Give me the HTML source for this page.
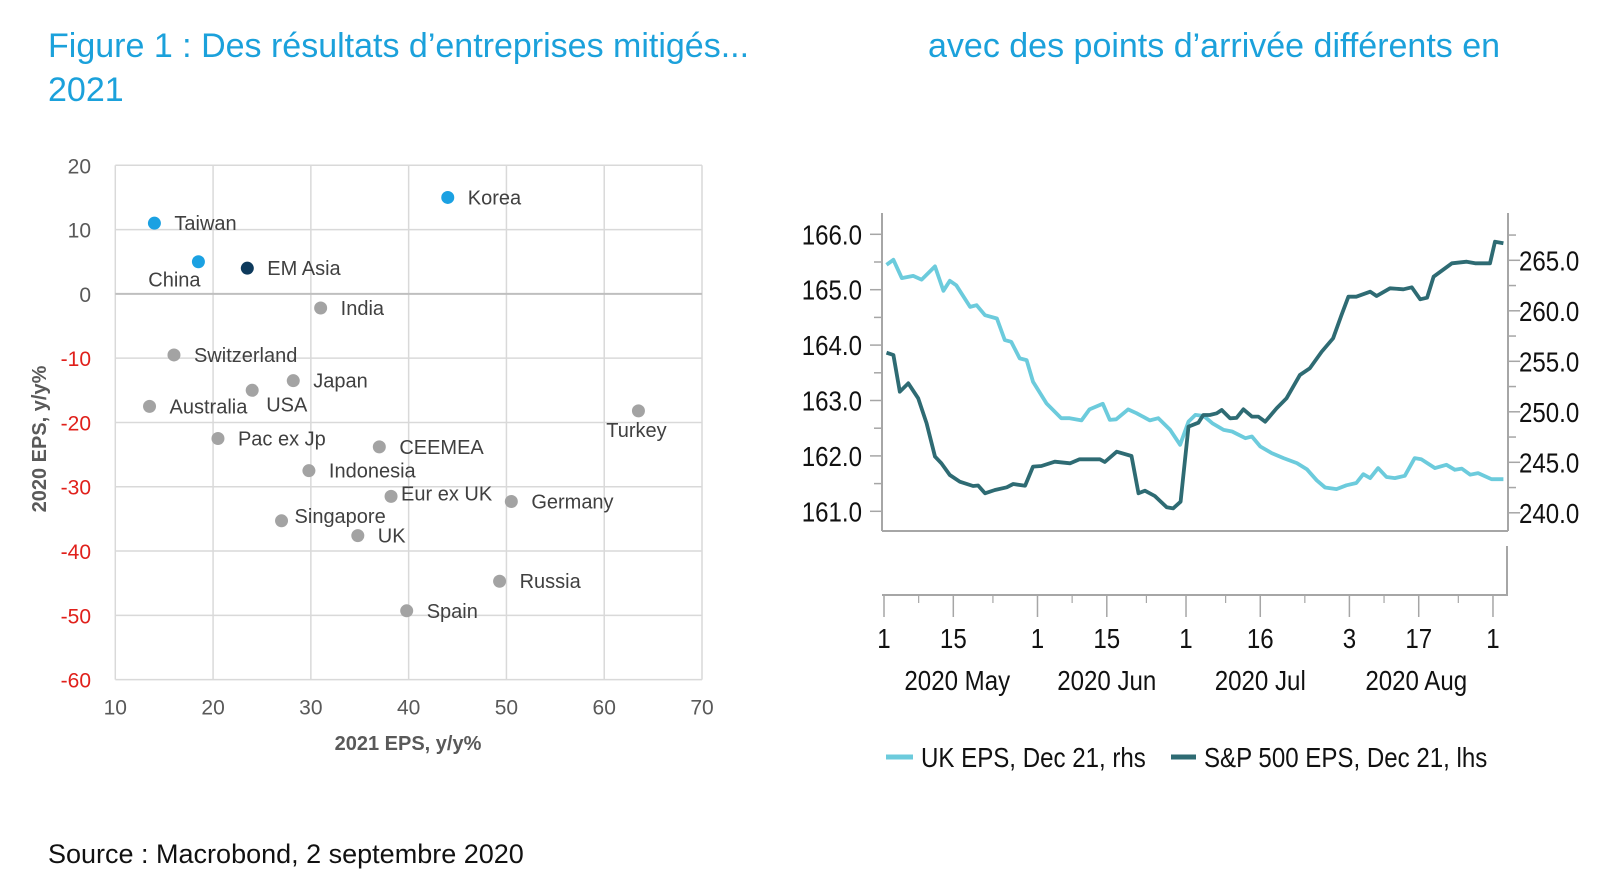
<!DOCTYPE html>
<html><head><meta charset="utf-8">
<style>
html,body{margin:0;padding:0;background:#fff;}
svg{display:block;font-family:"Liberation Sans",Arial,sans-serif;}
</style></head>
<body>
<svg id="fig" width="1600" height="883" viewBox="0 0 1600 883" xmlns="http://www.w3.org/2000/svg">
  <text x="48" y="57" font-size="34" fill="#1ba1db">Figure 1 : Des résultats d’entreprises mitigés...</text>
  <text x="48" y="101" font-size="34" fill="#1ba1db">2021</text>
  <text x="928" y="57" font-size="34" fill="#1ba1db">avec des points d’arrivée différents en</text>
  <text x="48" y="863" font-size="27" fill="#111">Source : Macrobond, 2 septembre 2020</text>
  <g id="scatter"></g>
  <g id="lines"></g>
</svg>
<script>
// ---------- Scatter data ----------
const countries = ["Korea","Taiwan","China","EM Asia","India","Switzerland","Japan","USA","Australia","Turkey","Pac ex Jp","CEEMEA","Indonesia","Eur ex UK","Germany","Singapore","UK","Russia","Spain"];
const eps2021 = [44,14,18.5,23.5,31,16,28.2,24,13.5,63.5,20.5,37,29.8,38.2,50.5,27,34.8,49.3,39.8];
const eps2020 = [15,11,5,4,-2.2,-9.5,-13.5,-15,-17.5,-18.2,-22.5,-23.8,-27.5,-31.5,-32.3,-35.3,-37.6,-44.7,-49.3];
const groups = ["asia","asia","asia","em","o","o","o","o","o","o","o","o","o","o","o","o","o","o","o"];
const xTicks = [10,20,30,40,50,60,70];
const yTicks = [20,10,0,-10,-20,-30,-40,-50,-60];

// ---------- Line data (day index from 1 May 2020) ----------
const ukDays = [0.5,1.9,3.6,5.9,7.6,10.3,12,13.3,14.6,17.4,18.7,20.4,22.8,24.4,25.7,27.4,28.8,30.1,32.8,35.8,37.5,39.9,41.5,44.2,45.6,46.9,49.3,51,53.7,55.4,57.8,59.8,61.5,62.9,64.6,66.3,68.6,70.3,73,74.3,76,78.3,80.7,83.4,85.4,87.4,89.1,91.4,93.4,95.4,96.8,98.2,99.8,101.5,103.2,105.2,107.2,108.5,111.3,113.6,115.3,116.7,118.4,120,122.7,125.1];
const ukEps = [165.45,165.54,165.21,165.25,165.18,165.42,164.98,165.16,165.08,164.69,164.72,164.54,164.48,164.09,164.06,163.76,163.73,163.34,162.95,162.68,162.68,162.64,162.84,162.94,162.65,162.66,162.84,162.77,162.64,162.68,162.47,162.20,162.62,162.74,162.72,162.59,162.47,162.44,162.32,162.35,162.17,162.05,161.96,161.87,161.76,161.56,161.43,161.40,161.47,161.51,161.67,161.60,161.78,161.62,161.60,161.64,161.96,161.94,161.78,161.84,161.75,161.77,161.66,161.69,161.58,161.58];
const spDays = [0.5,1.9,3.2,4.9,6.9,8.6,10.3,11.6,13.3,15.3,18,19,20.4,22.4,24.8,26.1,28.5,30.1,31.8,34.5,37.6,39.5,43.6,44.6,47,50,51.4,52.7,54.7,57.1,58.4,59.9,61.5,63.5,64.5,65.8,67.2,68.2,69.9,71.2,72.6,74.3,75.6,77,79.3,81.3,84,86,88.4,90.7,92.4,93.8,95.4,98.2,99.5,102.2,104.9,106.6,108.3,109.7,111,114.7,117.7,119.4,122.4,123.4,125.1];
const spEps = [255.85,255.62,251.99,252.82,251.34,248.86,245.56,244.9,243.74,243.08,242.65,242.7,241.93,242.26,242.52,242.85,242.68,244.57,244.63,245.06,244.9,245.3,245.3,245.03,246.05,245.62,241.93,242.19,241.66,240.54,240.44,241.1,248.53,248.92,249.68,249.68,249.85,250.18,249.36,249.4,250.25,249.52,249.52,249.02,250.35,251.34,253.64,254.31,255.95,257.28,259.58,261.4,261.4,261.89,261.47,262.23,262.13,262.33,261.14,261.3,263.38,264.7,264.86,264.7,264.7,266.84,266.68];
const leftTicks = [166,165,164,163,162,161];
const rightTicks = [265,260,255,250,245,240];
const dayTickDays = [0,14,31,45,61,76,94,108,123];
const dayTickLabels = ["1","15","1","15","1","16","3","17","1"];
const monthLabels = ["2020 May","2020 Jun","2020 Jul","2020 Aug"];
const monthLabelDays = [14.8,45,76,107.5];

const NS = "http://www.w3.org/2000/svg";
function mk(tag, attrs, parent){
  const e = document.createElementNS(NS, tag);
  for (const k in attrs) e.setAttribute(k, attrs[k]);
  parent.appendChild(e); return e;
}

// ---------- Scatter ----------
const sc = document.getElementById('scatter');
const sx = v => 115.3 + (v-10)*(702-115.3)/60;
const sy = v => 165.3 + (20-v)*(679.6-165.3)/80;
xTicks.forEach(t=>{
  const l = mk('line',{x1:sx(t),x2:sx(t),y1:sy(20),y2:sy(-60),stroke:'#d9d9d9','stroke-width':1.5},sc);
  
  
  const tx = mk('text',{x:sx(t),y:sy(-60)+35,'font-size':21,fill:'#595959','text-anchor':'middle'},sc);
  tx.textContent = t;
  
  
});
yTicks.forEach(t=>{
  const l = mk('line',{x1:sx(10),x2:sx(70),y1:sy(t),y2:sy(t),stroke:t===0?'#bfbfbf':'#d9d9d9','stroke-width':t===0?2:1.5},sc);
  
  
  const tx = mk('text',{x:91,y:sy(t)+8,'font-size':21,fill:t<0?'#e0201b':'#595959','text-anchor':'end'},sc);
  tx.textContent = t;
  
  
});
const xt = mk('text',{x:408,y:750,'font-size':20,'font-weight':'bold',fill:'#595959','text-anchor':'middle'},sc);
xt.textContent = '2021 EPS, y/y%';


const yt = mk('text',{x:0,y:0,'font-size':20,'font-weight':'bold',fill:'#595959','text-anchor':'middle',transform:'translate(46,439) rotate(-90)'},sc);
yt.textContent = '2020 EPS, y/y%';


const colors = {asia:'#1ba1e2', em:'#0d3a5c', o:'#a3a3a3'};
const offsets = {"China":[-24,18,'middle'],"USA":[14,14,'start'],"Turkey":[-2,19,'middle'],"Eur ex UK":[10,-3,'start'],"Singapore":[13,-5,'start']};
countries.forEach((c,i)=>{
  const cx = sx(eps2021[i]), cy = sy(eps2020[i]);
  const d = mk('circle',{cx:cx,cy:cy,r:6.5,fill:colors[groups[i]]},sc);
  
  
  const o = offsets[c] || [20,0,'start'];
  const t = mk('text',{x:cx+o[0],y:cy+o[1]+7,'font-size':20,fill:'#404040','text-anchor':o[2]},sc);
  t.textContent = c;
  
  
});

// ---------- Line chart ----------
const lc = document.getElementById('lines');
const X0 = 884, PX_DAY = 4.951;
const lx = d => X0 + d*PX_DAY;
const ly = v => 234.3 + (166-v)*55.4;
const ry = v => 260.3 + (265-v)*10.1;
function ctext(str, x, y, size, anchor, parent){
  const g = mk('g',{transform:`translate(${x},${y}) scale(0.86,1)`},parent);
  const t = mk('text',{x:0,y:0,'font-size':size,fill:'#111','text-anchor':anchor},g);
  t.textContent = str;
  return t;
}
const ax1 = mk('line',{x1:882,x2:882,y1:213,y2:531,stroke:'#a6a6a6','stroke-width':2},lc);


const ax2 = mk('line',{x1:1508,x2:1508,y1:213,y2:531,stroke:'#a6a6a6','stroke-width':2},lc);


const ax3 = mk('line',{x1:882,x2:1508,y1:531,y2:531,stroke:'#a6a6a6','stroke-width':2},lc);


for (let v=166; v>=160.9; v-=0.5){
  const major = Math.abs(v-Math.round(v))<0.01;
  const tk = mk('line',{x1:882-(major?12:8),x2:882,y1:ly(v),y2:ly(v),stroke:'#a6a6a6','stroke-width':1.5},lc);
  
  
}
for (let v=267.5; v>=239.9; v-=2.5){
  const major = Math.abs(v/5-Math.round(v/5))<0.01;
  const tk = mk('line',{x1:1508,x2:1508+(major?12:8),y1:ry(v),y2:ry(v),stroke:'#a6a6a6','stroke-width':1.5},lc);
  
  
}
leftTicks.forEach(v=>{
  const t = ctext(v.toFixed(1), 862, ly(v)+10, 28, 'end', lc);
  
  
});
rightTicks.forEach(v=>{
  const t = ctext(v.toFixed(1), 1519, ry(v)+10, 28, 'start', lc);
  
  
});
const da = mk('path',{d:'M882 595 L1507 595 L1507 546',fill:'none',stroke:'#a6a6a6','stroke-width':2},lc);


dayTickDays.forEach((d,i)=>{
  const tk = mk('line',{x1:lx(d),x2:lx(d),y1:595,y2:617,stroke:'#a6a6a6','stroke-width':1.5},lc);
  
  
  const t = ctext(dayTickLabels[i], lx(d), 648, 28, 'middle', lc);
  
  
});
[7,22,38,53,69,85,101,116].forEach(d=>{
  const tk = mk('line',{x1:lx(d),x2:lx(d),y1:595,y2:603,stroke:'#a6a6a6','stroke-width':1.2},lc);
  
  
});
monthLabels.forEach((m,i)=>{
  const t = ctext(m, lx(monthLabelDays[i]), 690, 28, 'middle', lc);
  
  
});
function path(days, vals, yf){
  return days.map((d,i)=>(i?'L':'M')+lx(d).toFixed(1)+' '+yf(vals[i]).toFixed(1)).join(' ');
}
const pUK = mk('path',{d:path(ukDays,ukEps,ly),fill:'none',stroke:'#6ccbdc','stroke-width':3.8,'stroke-linejoin':'round'},lc);


const pSP = mk('path',{d:path(spDays,spEps,ry),fill:'none',stroke:'#2e6b73','stroke-width':3.8,'stroke-linejoin':'round'},lc);


const s1 = mk('line',{x1:886,x2:913,y1:757,y2:757,stroke:'#6ccbdc','stroke-width':5},lc);


const l1 = ctext('UK EPS, Dec 21, rhs', 921, 767, 28, 'start', lc);


const s2 = mk('line',{x1:1171,x2:1196,y1:757,y2:757,stroke:'#2e6b73','stroke-width':5},lc);


const l2 = ctext('S&P 500 EPS, Dec 21, lhs', 1204, 767, 28, 'start', lc);


</script>
</body></html>
